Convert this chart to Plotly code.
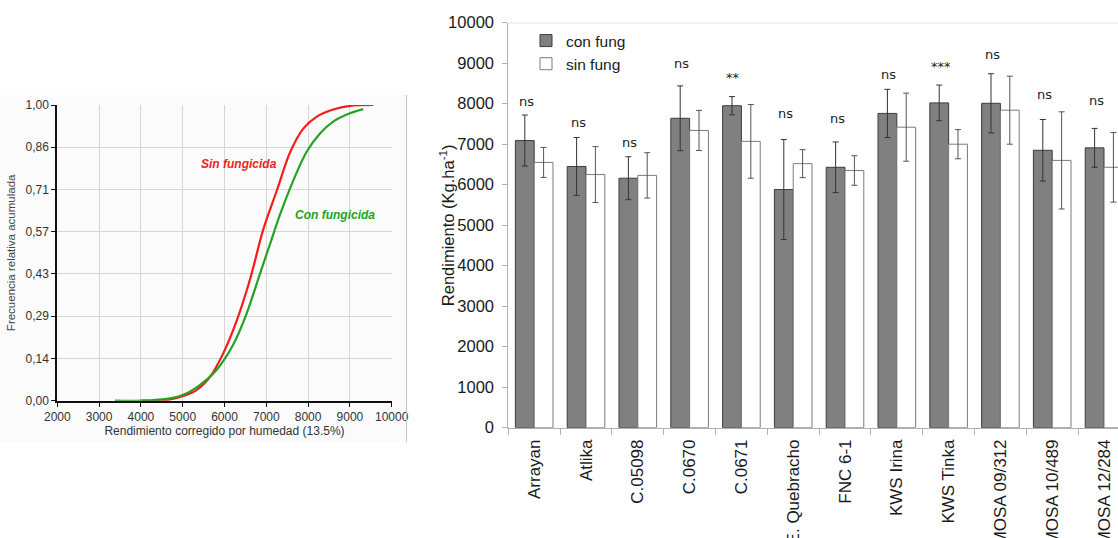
import plotly.graph_objects as go

W, H = 1118, 538

# ---------------- Left panel data (cumulative distribution) ----------------
sin_x = [4020, 4615, 5015, 5330, 5650, 5970, 6290, 6610, 6930, 7250, 7570, 7885, 8200, 8600, 9000, 9560]
sin_y = [0.0, 0.002, 0.016, 0.036, 0.08, 0.16, 0.27, 0.41, 0.58, 0.71, 0.84, 0.92, 0.96, 0.985, 0.997, 1.0]
con_x = [3380, 4020, 4700, 5015, 5410, 5810, 6210, 6530, 6850, 7090, 7330, 7650, 7965, 8285, 8600, 9000, 9320]
con_y = [0.0, 0.0, 0.008, 0.02, 0.053, 0.104, 0.19, 0.295, 0.43, 0.53, 0.63, 0.746, 0.842, 0.904, 0.944, 0.972, 0.986]
cdf_yticks = [0, 1/7, 2/7, 3/7, 4/7, 5/7, 6/7, 1]
cdf_yticktext = ["0,00", "0,14", "0,29", "0,43", "0,57", "0,71", "0,86", "1,00"]

# ---------------- Right panel data (bar chart) ----------------
varieties = ["Arrayan", "Atlika", "C.05098", "C.0670", "C.0671", "E. Quebracho", "FNC 6-1",
             "KWS Irina", "KWS Tinka", "MOSA 09/312", "MOSA 10/489", "MOSA 12/284"]
con_fung = [7090, 6450, 6160, 7640, 7950, 5880, 6430, 7760, 8020, 8010, 6850, 6910]
con_err = [630, 715, 530, 800, 225, 1235, 625, 595, 440, 730, 760, 480]
sin_fung = [6550, 6250, 6230, 7340, 7070, 6520, 6350, 7420, 7000, 7840, 6600, 6430]
sin_err = [370, 690, 560, 495, 910, 345, 365, 840, 360, 840, 1200, 860]
sig_labels = ["ns", "ns", "ns", "ns", "**", "ns", "ns", "ns", "***", "ns", "ns", "ns"]
sig_height = [8050, 7530, 7050, 9000, 8650, 7760, 7640, 8710, 8930, 9220, 8230, 8090]

fig = go.Figure()

# Left panel traces
fig.add_trace(go.Scatter(x=sin_x, y=sin_y, mode="lines", line=dict(color="#f41c1c", width=2.2, shape="spline"),
                         name="Sin fungicida", showlegend=False, xaxis="x", yaxis="y"))
fig.add_trace(go.Scatter(x=con_x, y=con_y, mode="lines", line=dict(color="#23a323", width=2.2, shape="spline"),
                         name="Con fungicida", showlegend=False, xaxis="x", yaxis="y"))

# Right panel traces
fig.add_trace(go.Bar(x=varieties, y=con_fung, name="con fung", xaxis="x2", yaxis="y2",
                     marker=dict(color="#808080", line=dict(color="#3c3c3c", width=1)),
                     error_y=dict(type="data", array=con_err, color="#333333", thickness=1, width=3),
                     legendgroup="a"))
fig.add_trace(go.Bar(x=varieties, y=sin_fung, name="sin fung", xaxis="x2", yaxis="y2",
                     marker=dict(color="#ffffff", line=dict(color="#7a7a7a", width=1)),
                     error_y=dict(type="data", array=sin_err, color="#555555", thickness=1, width=3),
                     legendgroup="b"))

# domains in pixels
lx0, lx1, ly0, ly1 = 57.3, 391.7, 105, 400.7
rx0, rx1, ry0, ry1 = 508.3, W, 22.7, 427.7

axis_font = dict(family="Liberation Sans, Arial, sans-serif", size=12, color="#333333")
big_font = dict(family="Liberation Sans, Arial, sans-serif", size=16.5, color="#1a1a1a")
xlab_font = dict(family="Liberation Sans, Arial, sans-serif", size=17, color="#1a1a1a")

fig.update_layout(
    width=W, height=H,
    margin=dict(l=0, r=0, t=0, b=0, autoexpand=False),
    paper_bgcolor="white", plot_bgcolor="white",
    barmode="group", bargap=0.274, bargroupgap=0,
    showlegend=True,
    legend=dict(x=526 / W, y=1 - 24 / H, xanchor="left", yanchor="top",
                font=dict(family="Liberation Sans, Arial, sans-serif", size=15.5, color="#1a1a1a"),
                bgcolor="rgba(0,0,0,0)", tracegroupgap=17, traceorder="normal", itemwidth=30),
    xaxis=dict(domain=[lx0 / W, lx1 / W], anchor="y", range=[2000, 10000], dtick=1000, tickformat="d",
               automargin=False,
               showgrid=True, gridcolor="#d6d6d6", gridwidth=1, zeroline=False,
               showline=True, linecolor="#111111", linewidth=2, ticks="outside", ticklen=4,
               tickcolor="#111111", tickfont=axis_font,
               title=dict(text="Rendimiento corregido por humedad (13.5%)", font=axis_font, standoff=4)),
    yaxis=dict(domain=[1 - ly1 / H, 1 - ly0 / H], anchor="x", range=[0, 1],
               tickvals=cdf_yticks, ticktext=cdf_yticktext, automargin=False,
               showgrid=True, gridcolor="#d6d6d6", gridwidth=1, zeroline=False,
               showline=True, linecolor="#111111", linewidth=2, ticks="outside", ticklen=4,
               tickcolor="#111111", tickfont=axis_font,
               title=dict(text="Frecuencia relativa acumulada", font=dict(family="Liberation Sans, Arial, sans-serif", size=11.5, color="#444444"), standoff=8)),
    xaxis2=dict(domain=[rx0 / W, rx1 / W], anchor="y2", type="category", range=[-0.5, 11.27],
                automargin=False,
                showgrid=False, zeroline=False, showline=True, linecolor="#b0b0b0", linewidth=1,
                ticks="outside", tickson="boundaries", ticklen=6, tickcolor="#b0b0b0",
                tickangle=-90, tickfont=xlab_font, ticklabelstandoff=4),
    yaxis2=dict(domain=[1 - ry1 / H, 1 - ry0 / H], anchor="x2", range=[0, 10000], dtick=1000, tickformat="d",
                automargin=False,
                showgrid=False, zeroline=False, showline=True, linecolor="#b0b0b0", linewidth=1,
                ticks="outside", ticklen=5, tickcolor="#b0b0b0", tickfont=big_font, ticklabelstandoff=5),
)

shapes = [
    # subtle background and border of the left figure
    dict(type="rect", xref="paper", yref="paper", x0=0, x1=406 / W, y0=1 - 442 / H, y1=1 - 95 / H,
         fillcolor="#fbfbfb", line=dict(width=0), layer="below"),
    dict(type="line", xref="paper", yref="paper", x0=406.5 / W, x1=406.5 / W, y0=1 - 442 / H, y1=1 - 95 / H,
         line=dict(color="#c4c4c4", width=1)),
    # top border of the bar chart
    dict(type="line", xref="paper", yref="y2", x0=rx0 / W, x1=1, y0=10000, y1=10000,
         line=dict(color="#b8b8b8", width=1)),
]
fig.update_layout(shapes=shapes)

annotations = [
    dict(x=6350, y=0.80, xref="x", yref="y", text="<b><i>Sin fungicida</i></b>", showarrow=False,
         font=dict(family="Liberation Sans, Arial, sans-serif", size=12, color="#f41c1c")),
    dict(x=8650, y=0.628, xref="x", yref="y", text="<b><i>Con fungicida</i></b>", showarrow=False,
         font=dict(family="Liberation Sans, Arial, sans-serif", size=12, color="#23a323")),
    # y-axis title of the bar chart
    dict(x=447 / W, y=5000, xref="paper", yref="y2", text="Rendimiento (Kg.ha<sup>-1</sup>)",
         textangle=-90, showarrow=False, xanchor="center", yanchor="middle", font=big_font),
]
for v, lab, hgt in zip(varieties, sig_labels, sig_height):
    annotations.append(dict(x=v, y=hgt, xref="x2", yref="y2", text=lab, showarrow=False, xshift=-8,
                            font=dict(family="DejaVu Sans, sans-serif", size=13, color="#222222")))
fig.update_layout(annotations=annotations)

fig.write_html("out.html")
